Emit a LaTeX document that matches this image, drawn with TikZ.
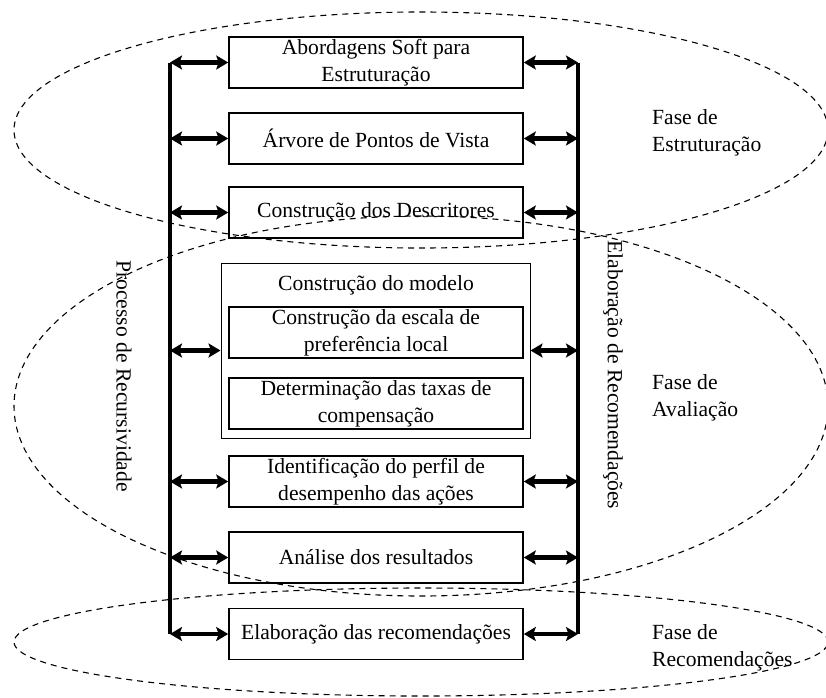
\documentclass[tikz,border=0pt]{standalone}
\usepackage{fontspec}
\setmainfont{Liberation Serif}
\usetikzlibrary{arrows.meta}
\begin{document}
\begin{tikzpicture}[x=1pt,y=-1pt,
  font=\fontsize{21.6pt}{27pt}\selectfont,
  stage/.style={draw, line width=1.6pt, minimum width=294pt, minimum height=51pt,
    inner sep=0pt, align=center},
  group/.style={draw, line width=1pt, minimum width=309pt, minimum height=175pt, inner sep=0pt},
  link/.style={line width=4.2pt,
    {Stealth[length=12pt,width=14pt,inset=2.5pt]}-{Stealth[length=12pt,width=14pt,inset=2.5pt]}},
  rail/.style={line width=4.5pt},
  phase/.style={line width=1.1pt, dash pattern=on 6pt off 5pt},
  phaselabel/.style={anchor=west, align=left, inner sep=0pt},
  sidelabel/.style={rotate=-90, inner sep=0pt}
]
\useasboundingbox (0,0) rectangle (826,697);

% dashed phase regions
\draw[phase] (421,130) ellipse [x radius=407pt, y radius=118pt];
\draw[phase] (421,406) ellipse [x radius=407pt, y radius=190pt];
\draw[phase] (421,642) ellipse [x radius=407pt, y radius=54pt];

% process steps
\node[stage] (b1) at (376,62.5) {Abordagens Soft para\\Estruturação};
\node[stage] (b2) at (376,138.5) {Árvore de Pontos de Vista};
\node[stage] (b3) at (376,212.5) {Construção dos Descritores};
\node[group] (model) at (375.5,350.5) {};
\node[inner sep=0pt] (modeltitle) at (376,285) {Construção do modelo};
\node[stage] (m1) at (376,332.5) {Construção da escala de\\preferência local};
\node[stage] (m2) at (376,403.5) {Determinação das taxas de\\compensação};
\node[stage] (b4) at (376,481.5) {Identificação do perfil de\\desempenho das ações};
\node[stage] (b5) at (376,557.5) {Análise dos resultados};
\node[stage] (b6) at (376,634) {Elaboração das recomendações};

% feedback rails
\coordinate (lt) at (170,62.5);
\coordinate (lb) at (170,634);
\coordinate (rt) at (578,62.5);
\coordinate (rb) at (578,634);
\draw[rail] (lt) -- (lb);
\draw[rail] (rt) -- (rb);

\foreach \n in {b1,b2,b3,model,b4,b5,b6}{
  \draw[link] (\n.west -| lt) -- (\n.west);
  \draw[link] (\n.east) -- (\n.east -| rt);
}

% rail captions
\node[sidelabel] (recur) at (124,376) {Processo de Recursividade};
\node[sidelabel] (recom) at (613,375) {Elaboração de Recomendações};

% phase captions
\node[phaselabel] (pe) at (652,133) {Fase de\\Estruturação};
\node[phaselabel] (pa) at (652,398) {Fase de\\Avaliação};
\node[phaselabel] (pr) at (652,648) {Fase de\\Recomendações};
\end{tikzpicture}
\end{document}
